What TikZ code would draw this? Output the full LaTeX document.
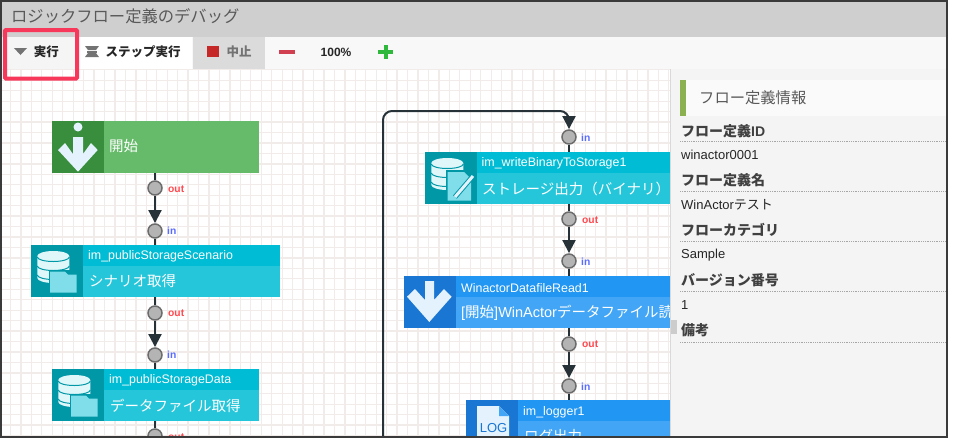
\documentclass[tikz,border=0pt]{standalone}
\usepackage{fontspec}
\setmainfont{Liberation Sans}
\newfontfamily\cjk{Noto Sans CJK JP}
\usetikzlibrary{arrows.meta}
\definecolor{framedark}{HTML}{3A3A3A}
\definecolor{titlegray}{HTML}{CFCFCF}
\definecolor{toolbg}{HTML}{F8F8F8}
\definecolor{panelbg}{HTML}{F4F4F4}
\definecolor{gridpink}{HTML}{F1ECEA}
\definecolor{linkdark}{HTML}{263238}
\definecolor{greenicon}{HTML}{388E3C}
\definecolor{greenbody}{HTML}{66BB6A}
\definecolor{tealicon}{HTML}{0097A7}
\definecolor{tealhead}{HTML}{00BCD4}
\definecolor{tealbody}{HTML}{26C6DA}
\definecolor{blueicon}{HTML}{1976D2}
\definecolor{bluehead}{HTML}{2196F3}
\definecolor{bluebody}{HTML}{42A5F5}
\definecolor{cylpale}{HTML}{E0F7FA}
\definecolor{folderpale}{HTML}{80DEEA}
\definecolor{arrowpale}{HTML}{E3F2FD}
\definecolor{marker}{HTML}{F7385A}
\definecolor{stopred}{HTML}{C62828}
\definecolor{minusred}{HTML}{D04050}
\definecolor{plusgreen}{HTML}{2EB83C}
\definecolor{barolive}{HTML}{8BB04F}
\definecolor{portgray}{HTML}{B4B4B4}
\definecolor{portedge}{HTML}{6C6C6C}
\definecolor{outred}{HTML}{FF4A50}
\definecolor{inblue}{HTML}{5A6CFF}
\tikzset{
  cell/.style={anchor=north west, inner sep=0pt, outer sep=0pt},
  iconcell/.style={cell, minimum width=52pt, minimum height=52pt},
  headcell/.style={cell, minimum height=21pt},
  bodycell/.style={cell, minimum height=31pt},
  blocktitle/.style={anchor=west, inner sep=0pt, text=white, font=\fontsize{12.4}{14}\selectfont},
  blockbody/.style={anchor=west, inner sep=0pt, text=white, font=\fontsize{14.5}{17}\selectfont},
  port/.style={circle, minimum size=15.5pt, inner sep=0pt},
  outlabel/.style={anchor=west, inner sep=0pt, text=outred, font=\bfseries\fontsize{10.3}{11}\selectfont},
  inlabel/.style={anchor=west, inner sep=0pt, text=inblue, font=\bfseries\fontsize{10.3}{11}\selectfont},
  stem/.style={line width=2pt, draw=linkdark},
  link/.style={stem, -{Triangle[length=13pt,width=13pt]}},
  toolcell/.style={cell, minimum height=32pt},
  toollabel/.style={inner sep=0pt, font=\bfseries\fontsize{12.5}{15}\selectfont, text=black!85},
  fieldname/.style={anchor=west, inner sep=0pt, text=black!75, font=\bfseries\fontsize{14}{17}\selectfont},
  fieldvalue/.style={anchor=west, inner sep=0pt, text=black!85, font=\fontsize{13}{16}\selectfont},
  fieldrule/.style={black!35, densely dotted, line width=0.8pt},
}
% icons are drawn from the top left corner of their cell
\newcommand{\cylindericon}[2]{
  \begin{scope}[shift={(#1,#2)}]
    \fill[cylpale] (6.3,11) arc[start angle=180,end angle=360,x radius=16,y radius=5]
      -- (38.3,33) arc[start angle=0,end angle=180,x radius=16,y radius=5] -- cycle;
    \draw[tealicon,line width=1pt] (6.3,12) arc[start angle=180,end angle=0,x radius=16,y radius=4.5];
    \draw[tealicon,line width=1pt] (6.3,21) arc[start angle=180,end angle=0,x radius=16,y radius=4.5];
    \draw[tealicon,line width=1pt] (6.3,30) arc[start angle=180,end angle=0,x radius=16,y radius=4.5];
  \end{scope}
}
\newcommand{\foldericon}[2]{
  \begin{scope}[shift={(#1,#2)}]
    \fill[tealicon] (17.5,25) rectangle (47.2,49);
    \fill[folderpale] (19,47.7) -- (19,26.7) -- (34,26.7) -- (37,29.7) -- (45.7,29.7) -- (45.7,47.7) -- cycle;
  \end{scope}
}
\newcommand{\arrowicon}[3]{
  \begin{scope}[shift={(#1,#2)}]
    \fill[arrowpale] (21,#3) -- (30,#3) -- (30,24) -- (40,13) -- (47.7,20.7) -- (25.3,46)
      -- (3,20.7) -- (11,13) -- (21,24) -- cycle;
  \end{scope}
}
\begin{document}
\begin{tikzpicture}[x=1pt, y=-1pt, >=stealth]
  \useasboundingbox (0,0) rectangle (956,445);
  \fill[white] (0,0) rectangle (956,445);
  % title and toolbar
  \fill[titlegray] (2,2) rectangle (947,37);
  \fill[toolbg] (2,37) rectangle (947,69);
  \node[toolcell, fill=black!4, minimum width=65pt] (runcell) at (8,37) {};
  \node[toolcell, fill=white, minimum width=117pt] (stepcell) at (75,37) {};
  \node[toolcell, fill=black!14, minimum width=72pt] (stopcell) at (193,37) {};
  \node[anchor=west, inner sep=0pt, text=black!65, font=\fontsize{16.3}{19}\selectfont] (title) at (11,16) {\cjk ロジックフロー定義のデバッグ};
  \fill[black!55] (14,48) -- (27,48) -- (20.5,55) -- cycle;
  \node[toollabel] (runlabel) at (46.5,52) {\cjk 実行};
  \fill[black!55] (85,46) -- (99,46) -- (96,50) -- (88,50) -- cycle;
  \fill[black!55] (88,53) -- (96,53) -- (99,57) -- (85,57) -- cycle;
  \fill[black!55] (87,50.5) rectangle (97,52.5);
  \node[toollabel] (steplabel) at (143,52) {\cjk ステップ実行};
  \fill[stopred] (207,46) rectangle (219,57);
  \node[toollabel, text=black!55] (stoplabel) at (239,52) {\cjk 中止};
  \fill[minusred] (279,50) rectangle (295,54);
  \node[toollabel, font=\bfseries\fontsize{12}{15}\selectfont] (zoomlabel) at (336,52) {100\%};
  \fill[plusgreen] (383.5,45) rectangle (387.5,59);
  \fill[plusgreen] (378,50) rectangle (393,54);
  % canvas
  \fill[white] (2,69) rectangle (670,437);
  \draw[gridpink, line width=1.3pt, step=10.45pt, shift={(0,69.8)}] (2,-0.8) grid (670,367.2);
  \begin{scope}
    \clip (2,69) rectangle (670,437);
    % left column
    \node[iconcell, fill=greenicon] (startIcon) at (52,121) {};
    \node[cell, fill=greenbody, minimum width=155pt, minimum height=52pt] (startBody) at (104,121) {};
    \node[blockbody, text=white] (startText) at (109,146) {\cjk 開始};
    \fill[arrowpale] (78,127) circle (4.5pt);
    \fill[arrowpale] (73,137) -- (83,137) -- (83,154) -- (91,143) -- (97.7,150) -- (78,171.7)
      -- (58,150) -- (65,143) -- (73,154) -- cycle;
    \node[port] (startOut) at (155,188) {};
    \node[outlabel] at (168,189) {out};

    \node[iconcell, fill=tealicon] (scenarioIcon) at (31,245) {};
    \node[headcell, fill=tealhead, minimum width=197pt] (scenarioHead) at (83,245) {};
    \node[bodycell, fill=tealbody, minimum width=197pt] (scenarioBody) at (83,266) {};
    \node[blocktitle] at (88,256.5) {im\_publicStorageScenario};
    \node[blockbody] at (89,281.5) {\cjk シナリオ取得};
    \cylindericon{31}{245}
    \foldericon{31}{245}
    \node[port] (scenarioIn) at (155,231) {};
    \node[inlabel] at (167,231) {in};
    \node[port] (scenarioOut) at (155,313) {};
    \node[outlabel] at (168,313.5) {out};

    \node[iconcell, fill=tealicon] (dataIcon) at (52,369) {};
    \node[headcell, fill=tealhead, minimum width=155pt] (dataHead) at (104,369) {};
    \node[bodycell, fill=tealbody, minimum width=155pt] (dataBody) at (104,390) {};
    \node[blocktitle] at (109,380.5) {im\_publicStorageData};
    \node[blockbody] at (110,405.5) {\cjk データファイル取得};
    \cylindericon{52}{369}
    \foldericon{52}{369}
    \node[port] (dataIn) at (155,355) {};
    \node[inlabel] at (167,355) {in};
    \node[port] (dataOut) at (155,436) {};
    \node[outlabel] at (168,437) {out};

    % right column
    \node[iconcell, fill=tealicon] (writeIcon) at (425,152) {};
    \node[headcell, fill=tealhead, minimum width=245pt] (writeHead) at (477,152) {};
    \node[bodycell, fill=tealbody, minimum width=245pt] (writeBody) at (477,173) {};
    \node[blocktitle] at (481.5,163.5) {im\_writeBinaryToStorage1};
    \node[blockbody] at (482,188.5) {\cjk ストレージ出力（バイナリ）};
    \cylindericon{425}{152}
    \fill[tealicon] (446,170) rectangle (473,202);
    \fill[folderpale] (447.7,200.7) -- (447.7,172) -- (464,172) -- (471,179) -- (471,200.7) -- cycle;
    \draw[tealicon, line width=5pt] (455,197) -- (473,176);
    \draw[arrowpale, line width=3pt] (455,197) -- (473,176);
    \node[port] (writeIn) at (569,137) {};
    \node[inlabel] at (581,137.5) {in};
    \node[port] (writeOut) at (569,219) {};
    \node[outlabel] at (582,220) {out};

    \node[iconcell, fill=blueicon] (readIcon) at (404,276) {};
    \node[headcell, fill=bluehead, minimum width=266pt] (readHead) at (456,276) {};
    \node[bodycell, fill=bluebody, minimum width=266pt] (readBody) at (456,297) {};
    \node[blocktitle] at (461,288) {WinactorDatafileRead1};
    \node[blockbody] at (461,312.5) {[{\cjk 開始}]WinActor{\cjk データファイル読}};
    \arrowicon{404}{276}{5}
    \node[port] (readIn) at (569,261) {};
    \node[inlabel] at (581,261.5) {in};
    \node[port] (readOut) at (569,344) {};
    \node[outlabel] at (582,344.5) {out};

    \node[iconcell, fill=blueicon] (logIcon) at (466,400) {};
    \node[headcell, fill=bluehead, minimum width=204pt] (logHead) at (518,400) {};
    \node[bodycell, fill=bluebody, minimum width=204pt] (logBody) at (518,421) {};
    \node[blocktitle] at (523,412) {im\_logger1};
    \node[blockbody] at (524,436) {\cjk ログ出力};
    \fill[arrowpale] (477,406) -- (499,406) -- (509,416) -- (509,440) -- (477,440) -- cycle;
    \fill[bluebody] (499,406) -- (509,416) -- (499,416) -- cycle;
    \node[inner sep=0pt, text=blueicon, font=\fontsize{13}{15}\selectfont] (logMark) at (493.5,428) {LOG};
    \node[port] (logIn) at (569,386) {};
    \node[inlabel] at (581,386.5) {in};

    % connectors
    \draw[stem] (startBody.south -| startOut) -- (startOut);
    \draw[link] (startOut) -- (scenarioIn);
    \draw[stem] (scenarioIn) -- (scenarioHead.north -| scenarioIn);
    \draw[stem] (scenarioBody.south -| scenarioOut) -- (scenarioOut);
    \draw[link] (scenarioOut) -- (dataIn);
    \draw[stem] (dataIn) -- (dataHead.north -| dataIn);
    \draw[stem] (dataBody.south -| dataOut) -- (dataOut);
    \draw[stem] (writeIn) -- (writeHead.north -| writeIn);
    \draw[stem] (writeBody.south -| writeOut) -- (writeOut);
    \draw[link] (writeOut) -- (readIn);
    \draw[stem] (readIn) -- (readHead.north -| readIn);
    \draw[stem] (readBody.south -| readOut) -- (readOut);
    \draw[link] (readOut) -- (logIn);
    \draw[stem] (logIn) -- (logHead.north -| logIn);
    \coordinate (loopBottom) at (383,437);
    \coordinate (loopTop) at (383,111);
    \coordinate (loopRight) at (569,111);
    \draw[link, rounded corners=9pt] (loopBottom) -- (loopTop) -- (loopRight) -- (writeIn);
    % ports go back over the lines
    \foreach \p in {startOut,scenarioIn,scenarioOut,dataIn,dataOut,writeIn,writeOut,readIn,readOut,logIn}
      \filldraw[fill=portgray, draw=portedge, line width=1.5pt] (\p) circle (7pt);
  \end{scope}
  % info panel
  \fill[panelbg] (670,69) rectangle (947,437);
  \draw[black!15, line width=1pt] (670,69) -- (670,437);
  \fill[black!20] (671,320) rectangle (677,334);
  \fill[black!2] (680,80) rectangle (946,116);
  \fill[barolive] (680,80) rectangle (686,116);
  \node[anchor=west, inner sep=0pt, text=black!65, font=\fontsize{15.3}{18}\selectfont] (panelTitle) at (699,98) {\cjk フロー定義情報};
  \node[fieldname] (idName) at (681,131) {{\cjk フロー定義}ID};
  \draw[fieldrule] (680,141) -- (946,141);
  \node[fieldvalue] (idValue) at (681,155) {winactor0001};
  \node[fieldname] (flowName) at (681,180) {\cjk フロー定義名};
  \draw[fieldrule] (680,191) -- (946,191);
  \node[fieldvalue] (flowValue) at (681,205) {WinActor{\cjk テスト}};
  \node[fieldname] (catName) at (681,230) {\cjk フローカテゴリ};
  \draw[fieldrule] (680,241.5) -- (946,241.5);
  \node[fieldvalue] (catValue) at (681,255) {Sample};
  \node[fieldname] (verName) at (681,280) {\cjk バージョン番号};
  \draw[fieldrule] (680,291) -- (946,291);
  \node[fieldvalue] (verValue) at (681,305) {1};
  \node[fieldname] (noteName) at (681,330) {\cjk 備考};
  \draw[fieldrule] (680,342) -- (946,342);
  % frame and highlight
  \draw[framedark, line width=2pt] (1,1) rectangle (947,437);
  \draw[marker, line width=4pt, rounded corners=1pt] (5,30) rectangle (77,78.5);
\end{tikzpicture}
\end{document}
